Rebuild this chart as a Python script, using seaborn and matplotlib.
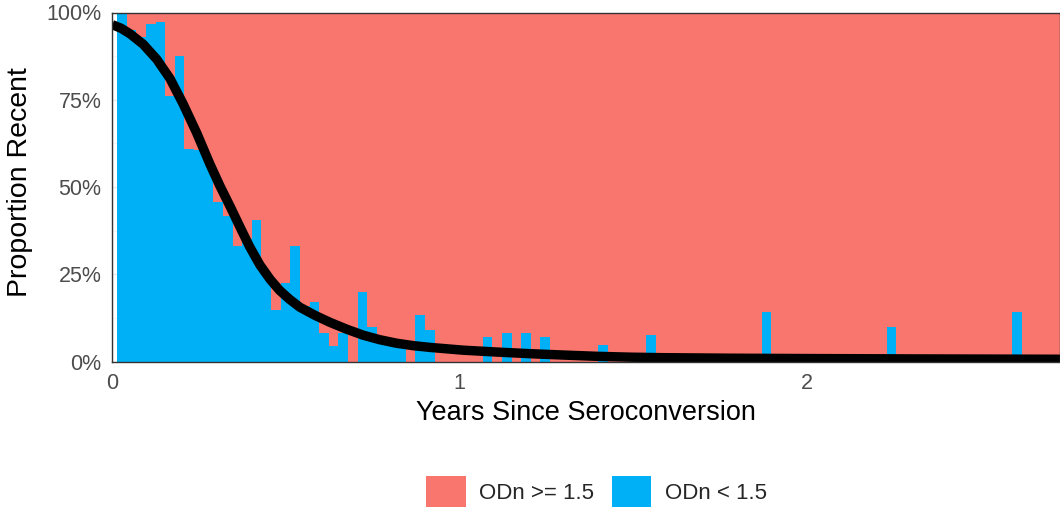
import numpy as np
import pandas as pd
import matplotlib
matplotlib.use("Agg")
import matplotlib.pyplot as plt
from matplotlib.patches import Patch
from matplotlib.ticker import FuncFormatter, MultipleLocator
import seaborn as sns

# ---------------- data ----------------
bin_width = 0.0277  # years per bin (bins centred at k * bin_width, k = 1..98)
blue_pct = [
    100, 95, 93, 96.8, 97.3, 76.2, 87.6, 60.9, 60.7, 57,      # 1-10
    45.8, 41.8, 33.2, 35, 40.6, 25, 14.8, 22.5, 33.2, 16,      # 11-20
    17.2, 8.2, 4.6, 8.2, 0, 20.0, 9.9, 7, 5.5, 4.5,            # 21-30
    0, 13.4, 9.1, 0, 0, 0, 0, 0, 7.1, 0,                       # 31-40
    8.2, 0, 8.2, 0, 7.1, 0, 0, 0, 0, 0,                        # 41-50
    4.8, 0, 0, 0, 0, 7.6, 0, 0, 0, 0,                          # 51-60
    0, 0, 0, 0, 0, 0, 0, 14.3, 0, 0,                           # 61-70
    0, 0, 0, 0, 0, 0, 0, 0, 0, 0,                              # 71-80
    9.9, 0, 0, 0, 0, 0, 0, 0, 0, 0,                            # 81-90
    0, 0, 0, 14.3, 0, 0, 0, 0,                                 # 91-98
]
line_t = [0.000, 0.025, 0.051, 0.089, 0.128, 0.166, 0.204, 0.243, 0.281,
          0.310, 0.340, 0.367, 0.395, 0.425, 0.455, 0.482, 0.510, 0.540,
          0.583, 0.626, 0.675, 0.722, 0.770, 0.818, 0.866, 0.914, 1.010,
          1.100, 1.201, 1.300, 1.393, 1.490, 1.585, 1.776, 2.000, 2.300, 2.730]
line_pct = [96.5, 95.5, 93.9, 90.9, 86.6, 81.1, 73.8, 65.5, 56.6,
            50.3, 44.3, 38.7, 33.0, 27.7, 23.5, 20.4, 17.9, 15.6,
            13.3, 11.3, 9.3, 7.6, 6.3, 5.3, 4.6, 4.1, 3.3,
            2.8, 2.3, 1.9, 1.55, 1.3, 1.15, 1.0, 0.9, 0.8, 0.7]
labels = ["ODn >= 1.5", "ODn < 1.5"]
colors = {"ODn >= 1.5": "#F8766D", "ODn < 1.5": "#00B0F6"}

# ---------------- build table ----------------
n_bins = len(blue_pct)
rows = []
for k, b in enumerate(blue_pct, start=1):
    c = k * bin_width
    rows.append((c, labels[0], 100 - b))
    rows.append((c, labels[1], b))
df = pd.DataFrame(rows, columns=["t", "grp", "w"])
edges = [float(e) for e in np.arange(0.5, n_bins + 1.0) * bin_width]

# ---------------- figure ----------------
W, H = 1060, 512
sns.set_style("white")
plt.rcParams["font.family"] = ["Liberation Sans", "DejaVu Sans"]
fig = plt.figure(figsize=(W / 100, H / 100), dpi=100)

px_l, px_r, px_t, px_b = 112.3, 1060, 12.5, 361.7
ax = fig.add_axes([px_l / W, 1 - px_b / H, (px_r - px_l) / W, (px_b - px_t) / H])

sns.histplot(data=df, x="t", weights="w", hue="grp", hue_order=labels,
             multiple="fill", bins=edges, palette=colors, alpha=1,
             linewidth=0, antialiased=False, legend=False, ax=ax, zorder=2)
sns.lineplot(x=line_t, y=np.array(line_pct) / 100, color="black",
             linewidth=6.8, ax=ax, zorder=3, solid_capstyle="butt",
             solid_joinstyle="round")

ax.set_xlim(0, edges[-1])
ax.set_ylim(0, 1)
ax.xaxis.set_major_locator(MultipleLocator(1))
ax.xaxis.set_minor_locator(MultipleLocator(0.5))
ax.yaxis.set_major_locator(MultipleLocator(0.25))
ax.yaxis.set_minor_locator(MultipleLocator(0.125))
ax.yaxis.set_major_formatter(FuncFormatter(lambda v, p: f"{v*100:.0f}%"))
ax.grid(True, which="major", color="#EBEBEB", linewidth=1.0, zorder=0)
ax.grid(True, which="minor", color="#F2F2F2", linewidth=0.6, zorder=0)
ax.set_axisbelow(True)

for s in ax.spines.values():
    s.set_visible(True)
    s.set_color("#333333")
    s.set_linewidth(1.0)
    s.set_zorder(4)

ax.tick_params(axis="both", which="major", direction="out", length=3.2,
               width=1.0, color="#333333", labelcolor="#4D4D4D",
               labelsize=15.5, pad=4.6)
ax.tick_params(axis="both", which="minor", length=0)

ax.set_xlabel("Years Since Seroconversion", fontsize=19.5, color="black")
ax.set_ylabel("Proportion Recent", fontsize=20.5, color="black")
ax.xaxis.set_label_coords(0.5, -0.11)
ax.xaxis.label.set_va("top")
ax.yaxis.set_label_coords(-0.0837, 0.515)

handles = [Patch(facecolor=colors[l], edgecolor="none") for l in labels]
fig.legend(handles=handles, labels=labels, loc="center",
           bbox_to_anchor=(596.5 / W, 1 - 491.7 / H), ncol=2, frameon=False,
           fontsize=16, handlelength=1.77, handleheight=1.77,
           handletextpad=0.6, columnspacing=0.8, borderpad=0)

fig.savefig("out.png", dpi=100)
